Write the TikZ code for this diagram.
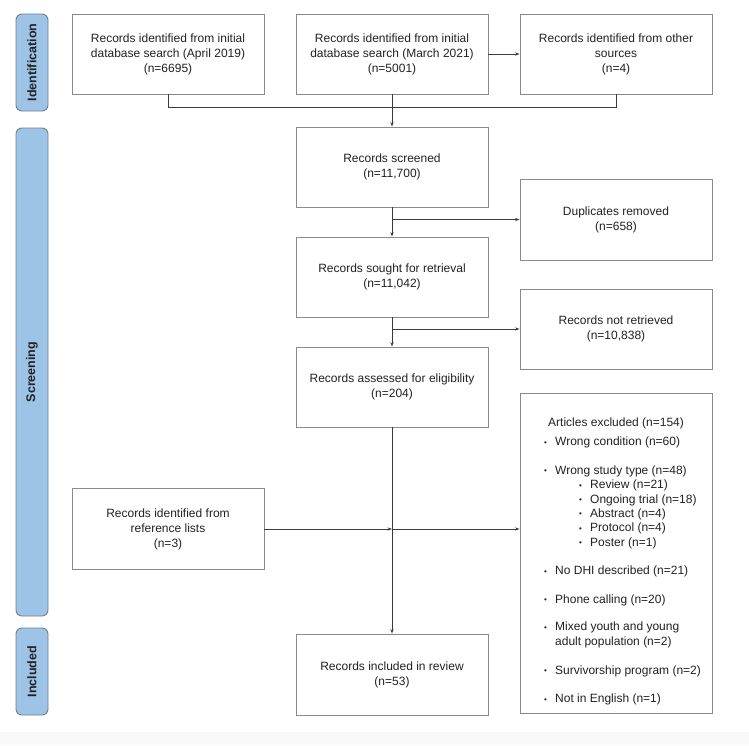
\documentclass[tikz,border=0pt]{standalone}
\usepackage{fontspec}
\setmainfont{Liberation Sans}
\usetikzlibrary{arrows.meta}
\definecolor{pillfill}{HTML}{9DC3E6}
\definecolor{pilldraw}{HTML}{6F7F8E}
\definecolor{boxdraw}{HTML}{8A8A8A}
\definecolor{linecol}{HTML}{3A3A3A}
\definecolor{txt}{HTML}{222222}
\newcommand\bul{\makebox[11pt][l]{\footnotesize\raisebox{0.5pt}{•}}}
\begin{document}
\begin{tikzpicture}[x=1pt,y=-1pt,
  every node/.style={text=txt,font=\fontsize{12}{15}\selectfont},
  box/.style={draw=boxdraw,line width=0.9pt,fill=white,minimum width=192pt,minimum height=80pt,align=center,inner sep=2pt},
  pill/.style={draw=pilldraw,line width=0.9pt,fill=pillfill,rounded corners=6pt,minimum height=32pt,inner sep=0pt,rotate=90,font=\fontsize{12.5}{15}\selectfont\bfseries},
  conn/.style={draw=linecol,line width=0.8pt},
  arr/.style={conn,-{Stealth[length=4.5pt,width=3.2pt]}},
  item/.style={anchor=west,inner sep=0pt,align=left}]
\useasboundingbox (0,0) rectangle (749,745);
\fill[white] (0,0) rectangle (749,745);
\fill[black!2.5] (0,732) rectangle (749,745);
% phase pills
\node[pill,minimum width=97pt] (pid) at (32,62.5) {Identification};
\node[pill,minimum width=488pt] (pscr) at (32,372) {Screening};
\node[pill,minimum width=87pt] (pinc) at (32,671.5) {Included};
% boxes
\node[box] (b1) at (168,54) {Records identified from initial\\database search (April 2019)\\(n=6695)};
\node[box] (b2) at (392,54) {Records identified from initial\\database search (March 2021)\\(n=5001)};
\node[box] (b3) at (616,54) {Records identified from other\\sources\\(n=4)};
\node[box] (scr) at (392,167) {Records screened\\(n=11,700)};
\node[box,minimum height=81pt] (dup) at (616,219.5) {Duplicates removed\\(n=658)};
\node[box] (sou) at (392,277) {Records sought for retrieval\\(n=11,042)};
\node[box] (nre) at (616,329) {Records not retrieved\\(n=10,838)};
\node[box] (ass) at (392,387) {Records assessed for eligibility\\(n=204)};
\node[box,minimum height=81pt] (ref) at (168,529) {Records identified from\\reference lists\\(n=3)};
\node[box,minimum height=81pt] (inc) at (392,674.5) {Records included in review\\(n=53)};
\node[box,minimum height=320pt] (exc) at (616,553) {};
% excluded list
\node[item] (e0) at (548,423.5) {Articles excluded (n=154)};
\node[item] (e1) at (544,442.5) {\bul Wrong condition (n=60)};
\node[item] (e2) at (544,471) {\bul Wrong study type (n=48)};
\node[item] (e3) at (579,485.5) {\bul Review (n=21)};
\node[item] (e4) at (579,500) {\bul Ongoing trial (n=18)};
\node[item] (e5) at (579,514) {\bul Abstract (n=4)};
\node[item] (e6) at (579,528.5) {\bul Protocol (n=4)};
\node[item] (e7) at (579,543) {\bul Poster (n=1)};
\node[item] (e8) at (544,571.5) {\bul No DHI described (n=21)};
\node[item] (e9) at (544,600) {\bul Phone calling (n=20)};
\node[item,anchor=north west] (e10) at (544,622) {\bul Mixed youth and young\\\hspace*{11pt}adult population (n=2)};
\node[item] (e11) at (544,671) {\bul Survivorship program (n=2)};
\node[item] (e12) at (544,699.5) {\bul Not in English (n=1)};
% connectors
\coordinate (j1) at (168,107);
\draw[conn] (b1.south) -- (j1) -| (b3.south);
\draw[arr] (b2.east) -- (b3.west);
\draw[arr] (b2.south) -- (scr.north);
\draw[arr] (scr.south) -- (sou.north);
\draw[arr] (scr.south |- dup.west) -- (dup.west);
\draw[arr] (sou.south) -- (ass.north);
\draw[arr] (sou.south |- nre.west) -- (nre.west);
\draw[arr] (ass.south) -- (inc.north);
\draw[arr] (ref.east) -- (ass.south |- ref.east);
\draw[arr] (ass.south |- ref.east) -- (exc.west |- ref.east);
\end{tikzpicture}
\end{document}
